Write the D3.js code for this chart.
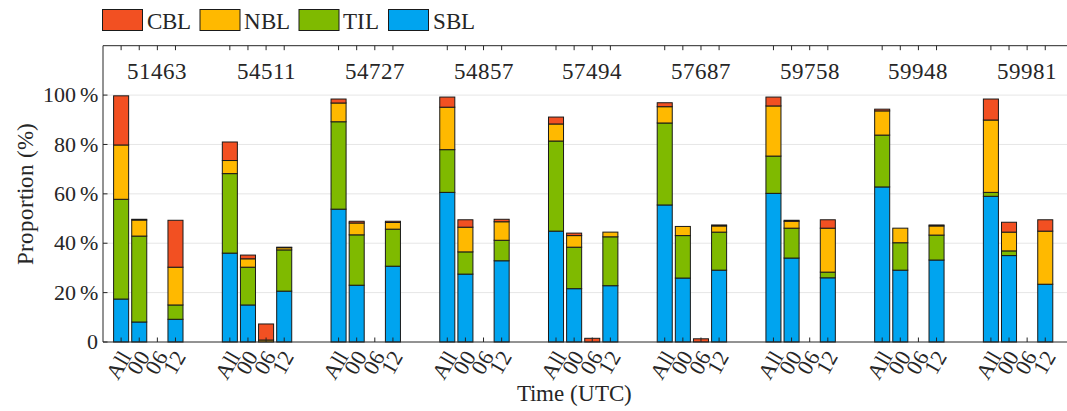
<!DOCTYPE html>

<head>
    <meta charset="utf-8">
    <script src="https://d3js.org/d3.v7.min.js"></script>
    <style>
        @font-face {
            font-family: "ChartSerif";
            src: local("Liberation Serif"), local("LiberationSerif"), local("LiberationSerif-Regular"), local("Tinos"), local("DejaVu Serif");
        }
    </style>
</head>

<body style="margin:0">
    <script>
        // stations and time slots
        var stations = ["51463", "54511", "54727", "54857", "57494", "57687", "59758", "59948", "59981"]
        var times = ["All", "00", "06", "12"]

        // proportion (%) per station, in order All/00/06/12
        var sblVals = [17.4, 8.1, 0, 9.2,  36.0, 15.0, 0, 20.6,  53.8, 23.0, 0, 30.7,
                       60.6, 27.5, 0, 32.9,  44.9, 21.6, 0, 22.8,  55.5, 25.9, 0, 29.1,
                       60.2, 34.0, 0, 26.0,  62.8, 29.1, 0, 33.2,  59.0, 35.0, 0, 23.4]
        var tilVals = [40.4, 34.8, 0, 5.8,  32.2, 15.3, 0, 16.7,  35.4, 20.4, 0, 15.0,
                       17.3, 9.0, 0, 8.3,  36.5, 16.8, 0, 19.8,  33.2, 17.2, 0, 15.4,
                       15.1, 12.1, 0, 2.3,  21.0, 11.1, 0, 10.1,  1.6, 1.9, 0, 0]
        var nblVals = [22.0, 6.5, 0, 15.3,  5.3, 3.4, 0.8, 0.9,  7.6, 4.8, 0, 2.7,
                       17.2, 10.0, 0, 7.5,  6.9, 4.7, 0, 1.9,  6.6, 3.7, 0, 2.5,
                       20.3, 2.8, 0, 17.8,  9.8, 5.9, 0, 3.7,  29.3, 7.6, 0, 21.5]
        var cblVals = [19.9, 0.3, 0, 19.0,  7.5, 1.5, 6.5, 0.2,  1.6, 0.7, 0, 0.5,
                       4.1, 3.0, 0, 1.0,  2.8, 1.0, 1.5, 0,  1.6, 0, 1.3, 0.4,
                       3.6, 0.4, 0, 3.4,  0.7, 0, 0, 0.4,  8.5, 4.0, 0, 4.6]

        var layers = ["SBL", "TIL", "NBL", "CBL"]
        var legendOrder = ["CBL", "NBL", "TIL", "SBL"]
        var colors = { CBL: "#F25022", NBL: "#FFB900", TIL: "#7FBA00", SBL: "#00A4EF" }
        var yTicks = [0, 20, 40, 60, 80, 100]

        var W = 1067, H = 411
        var plot = { left: 103, right: 1081.5, top: 45.7, bottom: 342 }
        var fontStack = "ChartSerif, 'Liberation Serif', 'Times New Roman', 'DejaVu Serif', serif"

        var svg = d3.select("body").append("svg")
            .attr("width", W)
            .attr("height", H)
            .style("font-family", fontStack)

        // each station takes 6 slots: 4 bars + 2 empty
        var rows = []
        stations.forEach(function(s, g) {
            times.forEach(function(t, j) {
                var k = g * 4 + j
                rows.push({ idx: g * 6 + j, station: s, time: t,
                    SBL: sblVals[k], TIL: tilVals[k], NBL: nblVals[k], CBL: cblVals[k] })
            })
        })

        var x = d3.scaleLinear().domain([-1, 53]).range([plot.left, plot.right])
        var y = d3.scaleLinear().domain([0, 120]).range([plot.bottom, plot.top])
        var barW = (x(1) - x(0)) * 0.83

        function label(sel, size) {
            return sel.style("font-family", fontStack)
                .attr("font-size", size)
                .attr("fill", "#262626")
        }

        // grid
        svg.append("g").selectAll("line").data(yTicks.slice(1))
            .enter().append("line")
            .attr("x1", plot.left).attr("x2", plot.right)
            .attr("y1", d => y(d)).attr("y2", d => y(d))
            .attr("stroke", "#e6e6e6").attr("stroke-width", 1)

        // stacked bars
        var series = d3.stack().keys(layers)(rows)
        svg.append("g").selectAll("g").data(series)
            .enter().append("g")
            .attr("fill", d => colors[d.key])
            .selectAll("rect").data(d => d)
            .enter().append("rect")
            .attr("x", d => x(d.data.idx) - barW / 2)
            .attr("width", barW)
            .attr("y", d => y(d[1]))
            .attr("height", d => y(d[0]) - y(d[1]))
            .attr("stroke", "#1a1a1a")
            .attr("stroke-width", 1)

        // box lines
        var axisG = svg.append("g").attr("stroke", "#262626").attr("stroke-width", 1)
        axisG.append("line").attr("x1", plot.left).attr("x2", plot.right)
            .attr("y1", plot.bottom).attr("y2", plot.bottom)
        axisG.append("line").attr("x1", plot.left).attr("x2", plot.right)
            .attr("y1", plot.top).attr("y2", plot.top)
        axisG.append("line").attr("x1", plot.left).attr("x2", plot.left)
            .attr("y1", plot.top).attr("y2", plot.bottom)

        // x ticks, top and bottom, inward
        rows.forEach(function(r) {
            axisG.append("line").attr("x1", x(r.idx)).attr("x2", x(r.idx))
                .attr("y1", plot.bottom).attr("y2", plot.bottom - 4.5)
            axisG.append("line").attr("x1", x(r.idx)).attr("x2", x(r.idx))
                .attr("y1", plot.top).attr("y2", plot.top + 4.5)
        })
        // y ticks
        yTicks.forEach(function(t) {
            axisG.append("line").attr("x1", plot.left).attr("x2", plot.left + 4.5)
                .attr("y1", y(t)).attr("y2", y(t))
        })

        // y tick labels
        svg.append("g").selectAll("text").data(yTicks)
            .enter().append("text")
            .call(label, 22)
            .attr("x", plot.left - 5)
            .attr("y", d => y(d))
            .attr("dy", "0.33em")
            .attr("text-anchor", "end")
            .text(d => d === 0 ? "0" : d + "\u2009%")

        // x tick labels (rotated)
        svg.append("g").selectAll("text").data(rows)
            .enter().append("text")
            .call(label, 22)
            .attr("transform", d => "translate(" + (x(d.idx) + 4.5) + "," + (plot.bottom + 11) + ") rotate(-60)")
            .attr("dy", "0.33em")
            .attr("text-anchor", "end")
            .text(d => d.time)

        // station names
        svg.append("g").selectAll("text").data(stations)
            .enter().append("text")
            .call(label, 23)
            .attr("x", (d, g) => x(g * 6 + 2))
            .attr("y", 79)
            .attr("text-anchor", "middle")
            .text(d => d)

        // axis titles
        svg.append("text")
            .call(label, 23)
            .attr("x", 574).attr("y", 401)
            .attr("text-anchor", "middle")
            .text("Time (UTC)")
        svg.append("text")
            .call(label, 23)
            .attr("transform", "translate(33," + ((plot.top + plot.bottom) / 2) + ") rotate(-90)")
            .attr("text-anchor", "middle")
            .text("Proportion (%)")

        // legend
        var legendX = [102.5, 200, 299, 388.5]
        var leg = svg.append("g").selectAll("g").data(legendOrder)
            .enter().append("g")
            .attr("transform", (d, i) => "translate(" + legendX[i] + ",9.5)")
        leg.append("rect")
            .attr("width", 40).attr("height", 21)
            .attr("fill", d => colors[d])
            .attr("stroke", "#1a1a1a").attr("stroke-width", 1)
        leg.append("text")
            .call(label, 23)
            .attr("x", 44).attr("y", 19)
            .text(d => d)
    </script>
</body>

</html>
